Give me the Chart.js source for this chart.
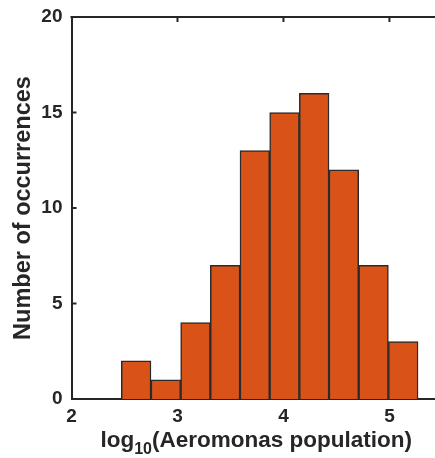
<!DOCTYPE html>
<html>
<head>
<meta charset="utf-8">
<script src="https://cdn.jsdelivr.net/npm/chart.js@4"></script>
<style>
  html, body { margin: 0; padding: 0; background: #fff; }
  #wrap { width: 435px; height: 458px; }
</style>
</head>
<body>
<div id="wrap"><canvas id="hist"></canvas></div>
<script>
// histogram bins (log10 of population) and counts per bin
var binEdges = [2.47, 2.75, 3.03, 3.31, 3.59, 3.87, 4.15, 4.43, 4.71, 4.99, 5.27];
var counts = [2, 1, 4, 7, 13, 15, 16, 12, 7, 3];
var xTicks = [2, 3, 4, 5];
var yTicks = [0, 5, 10, 15, 20];

var axisColor = '#262626';
var barColor = '#D95319';
var fontFamily = '"Liberation Sans", Arial, sans-serif';

var points = counts.map(function (c, i) {
  return { x: (binEdges[i] + binEdges[i + 1]) / 2, y: c };
});

// top frame line plus inward tick marks, and the subscripted x label
var frame = {
  id: 'frame',
  afterDraw: function (chart) {
    var ctx = chart.ctx, a = chart.chartArea;
    var xs = chart.scales.x, ys = chart.scales.y;
    ctx.save();
    ctx.strokeStyle = axisColor;
    ctx.lineWidth = 2;
    ctx.beginPath();
    ctx.moveTo(a.left - 1, a.top);
    ctx.lineTo(a.right, a.top);
    xTicks.forEach(function (t) {
      var px = xs.getPixelForValue(t);
      if (t === xs.min) return;
      ctx.moveTo(px, a.top);
      ctx.lineTo(px, a.top + 5);
    });
    yTicks.forEach(function (t) {
      if (t === 0) return;
      var py = ys.getPixelForValue(t);
      ctx.moveTo(a.left, py);
      ctx.lineTo(a.left + 5, py);
    });
    ctx.stroke();

    // x axis title with subscript
    ctx.fillStyle = axisColor;
    ctx.textBaseline = 'alphabetic';
    var big = 'bold 22.5px ' + fontFamily;
    var small = 'bold 16px ' + fontFamily;
    var p1 = 'log', p2 = '10', p3 = '(Aeromonas population)';
    ctx.font = big;
    var w1 = ctx.measureText(p1).width, w3 = ctx.measureText(p3).width;
    ctx.font = small;
    var w2 = ctx.measureText(p2).width;
    var x0 = (a.left + a.right) / 2 - (w1 + w2 + w3) / 2 + 3;
    var base = 447;
    ctx.font = big;
    ctx.fillText(p1, x0, base);
    ctx.font = small;
    ctx.fillText(p2, x0 + w1, base + 7);
    ctx.font = big;
    ctx.fillText(p3, x0 + w1 + w2, base);

    // y axis title
    ctx.font = 'bold 23.5px ' + fontFamily;
    ctx.translate(24, (a.top + a.bottom) / 2);
    ctx.rotate(-Math.PI / 2);
    ctx.textAlign = 'center';
    ctx.textBaseline = 'middle';
    ctx.fillText('Number of occurrences', 0, 0);
    ctx.restore();
  }
};

new Chart(document.getElementById('hist'), {
  type: 'bar',
  data: {
    datasets: [{
      data: points,
      backgroundColor: barColor,
      borderColor: '#2b2b2b',
      borderWidth: 1.5,
      barPercentage: 1,
      categoryPercentage: 1
    }]
  },
  options: {
    responsive: true,
    maintainAspectRatio: false,
    animation: false,
    layout: { padding: { top: 17, right: 0, left: 0, bottom: 0 } },
    plugins: { legend: { display: false }, tooltip: { enabled: false } },
    scales: {
      x: {
        type: 'linear',
        offset: false,
        min: 2,
        max: 5.43,
        afterFit: function (s) {
          s.height = 59;
          s.paddingLeft = 0;
          s.paddingRight = 0;
        },
        afterBuildTicks: function (s) {
          s.ticks = xTicks.map(function (v) { return { value: v }; });
        },
        grid: { display: false, drawTicks: false, offset: false },
        border: { display: true, color: axisColor, width: 2 },
        ticks: {
          padding: 6,
          color: axisColor,
          maxRotation: 0,
          font: { family: fontFamily, size: 19, weight: 'bold' }
        }
      },
      y: {
        min: 0,
        max: 20,
        afterFit: function (s) {
          s.width = 71.5;
          s.paddingTop = 0;
          s.paddingBottom = 0;
        },
        afterBuildTicks: function (s) {
          s.ticks = yTicks.map(function (v) { return { value: v }; });
        },
        grid: { display: false, drawTicks: false },
        border: { display: true, color: axisColor, width: 2 },
        ticks: {
          padding: 9,
          color: axisColor,
          font: { family: fontFamily, size: 19, weight: 'bold' }
        }
      }
    }
  },
  plugins: [frame]
});
</script>
</body>
</html>
